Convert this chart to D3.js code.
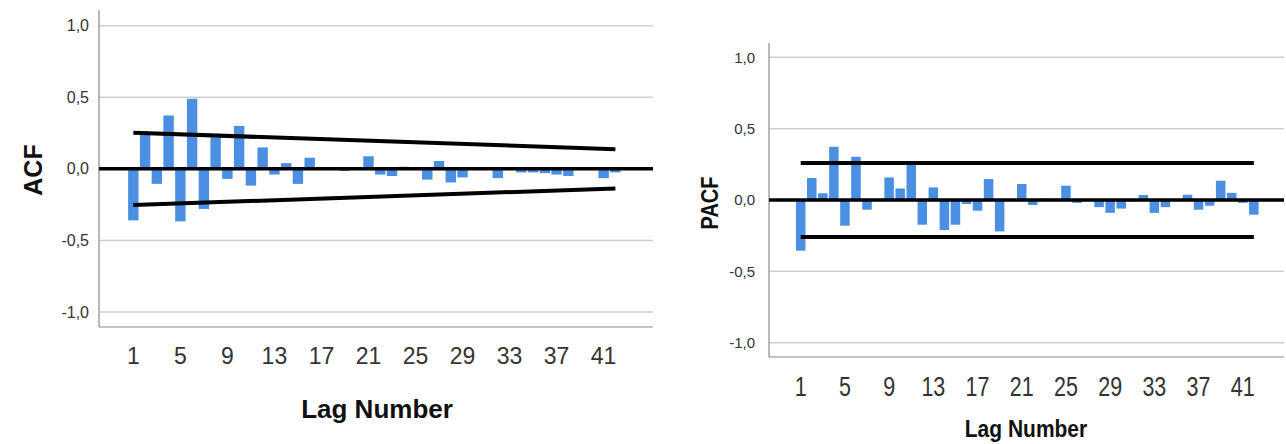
<!DOCTYPE html>
<html>
<head>
<meta charset="utf-8">
<script src="https://cdn.jsdelivr.net/npm/d3@7"></script>
<style>
  html, body { margin: 0; padding: 0; background: #ffffff; }
  svg { display: block; }
  text { font-family: "Liberation Sans", Arial, sans-serif; }
</style>
</head>
<body>
<svg id="chart" width="1286" height="444"></svg>
<script>
// Lags shown on both correlograms
const lags = [1, 2, 3, 4, 5, 6, 7, 8, 9, 10, 11, 12, 13, 14, 15, 16, 17, 18, 19, 20, 21,
              22, 23, 24, 25, 26, 27, 28, 29, 30, 31, 32, 33, 34, 35, 36, 37, 38, 39, 40, 41, 42];

// Autocorrelation coefficients
const acfValues = [-0.36, 0.25, -0.105, 0.373, -0.367, 0.49, -0.28, 0.22, -0.07, 0.30,
                   -0.117, 0.15, -0.04, 0.04, -0.105, 0.078, 0, 0, -0.015, 0,
                   0.088, -0.04, -0.05, 0.015, 0, -0.075, 0.055, -0.095, -0.06, 0,
                   0, -0.065, 0, -0.025, -0.025, -0.03, -0.04, -0.05, 0, 0,
                   -0.065, -0.025];

// Partial autocorrelation coefficients
const pacfValues = [-0.355, 0.154, 0.047, 0.373, -0.18, 0.303, -0.068, 0, 0.158, 0.081,
                    0.256, -0.173, 0.088, -0.21, -0.173, -0.028, -0.075, 0.147, -0.22, 0,
                    0.112, -0.035, 0.01, 0.01, 0.1, -0.02, 0, -0.05, -0.09, -0.06,
                    -0.01, 0.035, -0.09, -0.05, 0, 0.037, -0.068, -0.04, 0.135, 0.05,
                    -0.02, -0.103];

// Confidence limits (lag, upper limit); lower limit is the negative
const acfLimitLags = [1, 42];
const acfLimitValues = [0.253, 0.137];
const pacfLimitLags = [1, 42];
const pacfLimitValues = [0.26, 0.26];

const yTickValues = [-1, -0.5, 0, 0.5, 1];
const xTickLags = [1, 5, 9, 13, 17, 21, 25, 29, 33, 37, 41];

const barColor = "#4a8fe2";
const fmt = v => d3.format(".1f")(v).replace(".", ",").replace("−", "-");

const svg = d3.select("#chart");

function drawPanel(cfg) {
  const g = svg.append("g");
  const x = d3.scaleLinear().domain(cfg.xDomain).range([cfg.left, cfg.right]);
  const y = d3.scaleLinear().domain(cfg.yDomain).range([cfg.bottom, cfg.top]);

  // horizontal gridlines
  g.append("g").selectAll("line")
    .data(yTickValues.filter(v => v !== 0))
    .join("line")
    .attr("x1", cfg.left).attr("x2", cfg.right)
    .attr("y1", d => y(d)).attr("y2", d => y(d))
    .attr("stroke", "#cfcfcf").attr("stroke-width", 1.5);

  // y axis with labels
  const yAxis = d3.axisLeft(y).tickValues(yTickValues).tickFormat(fmt).tickSize(0).tickPadding(cfg.yPad);
  const ya = g.append("g").attr("transform", `translate(${cfg.left},0)`).call(yAxis);
  ya.select(".domain").remove();
  ya.selectAll("text")
    .attr("font-size", cfg.yFont).attr("fill", "#333")
    .style("font-family", '"Liberation Sans", Arial, sans-serif');

  // frame lines (left and bottom)
  g.append("line").attr("x1", cfg.left).attr("x2", cfg.left)
    .attr("y1", cfg.top).attr("y2", cfg.bottom)
    .attr("stroke", "#8a8a8a").attr("stroke-width", 1.2);
  g.append("line").attr("x1", cfg.left).attr("x2", cfg.right)
    .attr("y1", cfg.bottom).attr("y2", cfg.bottom)
    .attr("stroke", "#8a8a8a").attr("stroke-width", 1.2);

  // bars
  g.append("g").selectAll("rect")
    .data(lags.map((l, i) => ({ lag: l, v: cfg.values[i] })).filter(d => d.v !== 0))
    .join("rect")
    .attr("x", d => x(d.lag) - cfg.barWidth / 2)
    .attr("width", cfg.barWidth)
    .attr("y", d => y(Math.max(0, d.v)))
    .attr("height", d => Math.abs(y(d.v) - y(0)))
    .attr("fill", barColor);

  // zero reference line
  g.append("line").attr("x1", cfg.left).attr("x2", cfg.right)
    .attr("y1", y(0)).attr("y2", y(0))
    .attr("stroke", "#000").attr("stroke-width", 3.5);

  // confidence limits
  const upper = cfg.limitLags.map((l, i) => [l, cfg.limitValues[i]]);
  const lower = cfg.limitLags.map((l, i) => [l, -cfg.limitValues[i]]);
  const line = d3.line().x(d => x(d[0])).y(d => y(d[1]));
  [upper, lower].forEach(pts => {
    g.append("path").attr("d", line(pts))
      .attr("fill", "none").attr("stroke", "#000").attr("stroke-width", 4)
      .attr("stroke-linecap", "butt");
  });

  // x tick labels
  g.append("g").selectAll("text")
    .data(xTickLags)
    .join("text")
    .attr("transform", d => `translate(${x(d)},${cfg.xTickY}) scale(1,${cfg.xTickStretch})`)
    .attr("text-anchor", "middle")
    .attr("font-size", cfg.xTickFont).attr("fill", "#333")
    .text(d => d);

  // axis titles
  g.append("text")
    .attr("transform", `translate(${cfg.xTitleX},${cfg.xTitleY}) scale(1,${cfg.titleStretch})`)
    .attr("text-anchor", "middle").attr("font-weight", "bold")
    .attr("font-size", cfg.titleFont).attr("fill", "#111")
    .text("Lag Number");
  g.append("text")
    .attr("transform", `translate(${cfg.yTitleX},${cfg.yTitleY}) rotate(-90) scale(1,${cfg.yTitleStretch})`)
    .attr("text-anchor", "middle").attr("font-weight", "bold")
    .attr("font-size", cfg.yTitleFont).attr("fill", "#111")
    .text(cfg.yTitle);
}

drawPanel({
  values: acfValues, limitLags: acfLimitLags, limitValues: acfLimitValues,
  left: 99, right: 653, top: 10, bottom: 327,
  xDomain: [-1.92, 45.2], yDomain: [-1.105, 1.11],
  barWidth: 10.4, yFont: 16, yPad: 10,
  xTickY: 364, xTickFont: 23, xTickStretch: 1,
  xTitleX: 377, xTitleY: 418, titleFont: 26, titleStretch: 1,
  yTitleX: 42, yTitleY: 170, yTitle: "ACF", yTitleFont: 25, yTitleStretch: 1.05
});

drawPanel({
  values: pacfValues, limitLags: pacfLimitLags, limitValues: pacfLimitValues,
  left: 769, right: 1284, top: 43, bottom: 357,
  xDomain: [-1.87, 44.73], yDomain: [-1.1, 1.1],
  barWidth: 9.5, yFont: 15, yPad: 14,
  xTickY: 396, xTickFont: 21.5, xTickStretch: 1.25,
  xTitleX: 1026, xTitleY: 437, titleFont: 21, titleStretch: 1.15,
  yTitleX: 718, yTitleY: 203, yTitle: "PACF", yTitleFont: 20, yTitleStretch: 1.2
});
</script>
</body>
</html>
